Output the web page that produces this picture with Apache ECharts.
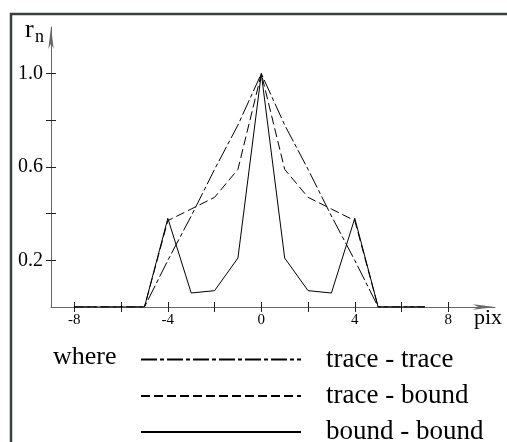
<!DOCTYPE html>
<html>
<head>
<meta charset="UTF-8">
<title>r_n vs pix</title>
<script src="https://cdn.jsdelivr.net/npm/echarts@6/dist/echarts.min.js"></script>
<style>
  html, body { margin: 0; padding: 0; background: #fff; }
  #main { width: 507px; height: 442px; }
</style>
</head>
<body>
<div id="main"></div>
<script>
// pixel offsets (x) and correlation values r_n
var pix = [-8, -7, -6, -5, -4, -3, -2, -1, 0, 1, 2, 3, 4, 5, 6, 7];
var traceTrace = [0, 0, 0, 0, 0.2, 0.39, 0.59, 0.78, 1.0, 0.78, 0.59, 0.39, 0.2, 0, 0, 0];
var traceBound = [0, 0, 0, 0, 0.37, 0.42, 0.47, 0.59, 1.0, 0.59, 0.47, 0.42, 0.37, 0, 0, 0];
var boundBound = [0, 0, 0, 0, 0.38, 0.06, 0.07, 0.21, 1.0, 0.21, 0.07, 0.06, 0.38, 0, 0, 0];

var seriesNames = ['trace - trace', 'trace - bound', 'bound - bound'];
var xTicks = [-8, -6, -4, -2, 0, 2, 4, 6, 8];
var xLabels = [-8, -4, 0, 4, 8];
var yTicks = [0.2, 0.4, 0.6, 0.8, 1.0];
var yLabels = [0.2, 0.6, 1.0];

var serif = 'Liberation Serif';
var axisGray = '#666';

function pairs(ys) {
    return pix.map(function (x, i) { return [x, ys[i]]; });
}

// one legend per row so each sits exactly under the previous one
var legendTops = [346, 382.5, 418.5];
var legends = seriesNames.map(function (name, i) {
    return {
        orient: 'horizontal',
        left: 140,
        top: legendTops[i],
        padding: 0,
        itemWidth: 160,
        itemHeight: 14,
        selectedMode: false,
        itemStyle: { opacity: 0 },
        textStyle: { color: '#000', fontFamily: serif, fontSize: 27, padding: [0, 0, 4, 20] },
        data: [name]
    };
});

var chart = echarts.init(document.getElementById('main'));

var option = {
    animation: false,
    backgroundColor: '#fff',
    color: ['#000', '#000', '#000'],
    grid: { left: 51, right: 12, top: 27, bottom: 135, containLabel: false },
    xAxis: [
        {
            type: 'value', min: -9, max: 10,
            splitLine: { show: false },
            axisLine: { onZero: false, symbol: ['none', 'arrow'], symbolSize: [4, 22], lineStyle: { color: axisGray, width: 1 } },
            axisTick: { show: true, length: 5, customValues: xTicks, lineStyle: { color: '#222' } },
            axisLabel: { customValues: xLabels, margin: 6, color: '#000', fontFamily: serif, fontSize: 15 }
        },
        {
            // inner half of the crossing ticks
            type: 'value', min: -9, max: 10, position: 'bottom',
            splitLine: { show: false },
            axisLine: { show: false, onZero: false },
            axisTick: { show: true, inside: true, length: 5, customValues: xTicks, lineStyle: { color: '#222' } },
            axisLabel: { show: false }
        }
    ],
    yAxis: [
        {
            type: 'value', min: 0, max: 1.2,
            splitLine: { show: false },
            axisLine: { onZero: false, symbol: ['none', 'arrow'], symbolSize: [4, 22], lineStyle: { color: axisGray, width: 1 } },
            axisTick: { show: true, length: 5, customValues: yTicks, lineStyle: { color: '#222' } },
            axisLabel: {
                customValues: yLabels, margin: 8, color: '#000', fontFamily: serif, fontSize: 20,
                formatter: function (v) { return v.toFixed(1); }
            }
        },
        {
            type: 'value', min: 0, max: 1.2, position: 'left',
            splitLine: { show: false },
            axisLine: { show: false, onZero: false },
            axisTick: { show: true, inside: true, length: 5, customValues: yTicks, lineStyle: { color: '#222' } },
            axisLabel: { show: false }
        }
    ],
    legend: legends,
    series: [
        {
            name: seriesNames[0], type: 'line', symbol: 'none',
            lineStyle: { color: '#000', width: 1, type: [16, 3, 4, 3] },
            data: pairs(traceTrace)
        },
        {
            name: seriesNames[1], type: 'line', symbol: 'none',
            lineStyle: { color: '#000', width: 1, type: [9, 4] },
            data: pairs(traceBound)
        },
        {
            name: seriesNames[2], type: 'line', symbol: 'none',
            lineStyle: { color: '#000', width: 1, type: 'solid' },
            data: pairs(boundBound)
        }
    ],
    graphic: [
        {
            type: 'rect', shape: { x: 11, y: 14, width: 700, height: 700 },
            style: { fill: 'none', stroke: '#3a3f3f', lineWidth: 2.5 }, silent: true
        },
        { type: 'text', x: 25, y: 30, style: { text: 'r', font: '26px "Liberation Serif"', fill: '#000', verticalAlign: 'middle' } },
        { type: 'text', x: 35, y: 37, style: { text: 'n', font: '18px "Liberation Serif"', fill: '#000', verticalAlign: 'middle' } },
        { type: 'text', x: 474, y: 318, style: { text: 'pix', font: '22px "Liberation Serif"', fill: '#000', verticalAlign: 'middle' } },
        { type: 'text', x: 53, y: 357, style: { text: 'where', font: '26px "Liberation Serif"', fill: '#000', verticalAlign: 'middle' } }
    ]
};

chart.setOption(option);
</script>
</body>
</html>
